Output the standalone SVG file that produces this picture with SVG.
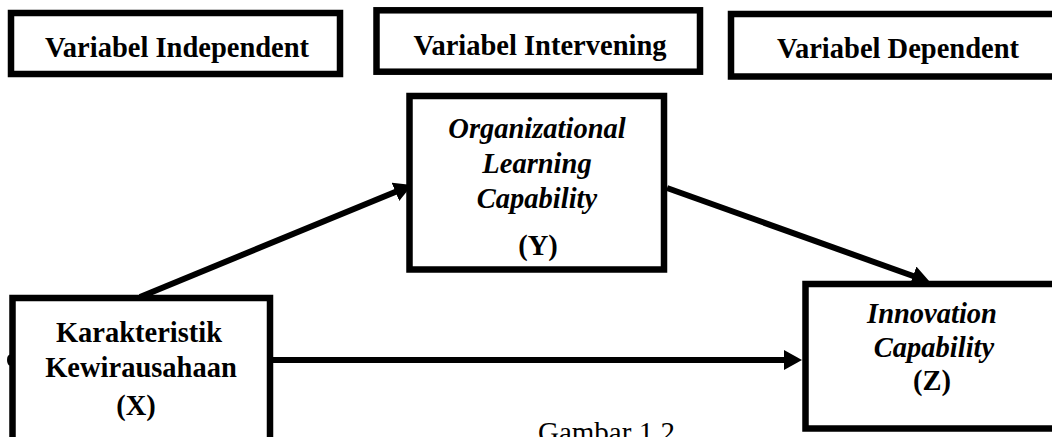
<svg xmlns="http://www.w3.org/2000/svg" width="1052" height="437" viewBox="0 0 1052 437">
<style>
.box{fill:#fff;stroke:#000;stroke-width:6.5}
.t{font-family:"Liberation Serif","Times New Roman",serif;font-size:28.5px;font-weight:bold;fill:#000;text-anchor:middle}
.i{font-style:italic}
.cap{font-family:"Liberation Serif","Times New Roman",serif;font-size:29px;fill:#000}
.conn{stroke:#000;stroke-width:6;fill:none}
</style>
<defs>
<marker id="ah" markerUnits="userSpaceOnUse" markerWidth="20" markerHeight="22" refX="9" refY="10" orient="auto">
<path d="M0,0 L18,10 L0,20 z" fill="#000"/>
</marker>
</defs>
<rect width="1052" height="437" fill="#fff"/>
<g id="hdr-independent">
<rect class="box" x="11" y="13" width="329" height="61"/>
<text class="t" x="177" y="57">Variabel Independent</text>
</g>
<g id="hdr-intervening">
<rect class="box" x="376.5" y="10.3" width="323.5" height="61.4"/>
<text class="t" x="540" y="55">Variabel Intervening</text>
</g>
<g id="hdr-dependent">
<rect class="box" x="731" y="14" width="340" height="62.5"/>
<text class="t" x="898" y="58">Variabel Dependent</text>
</g>
<g id="connectors">
<line class="conn" x1="140" y1="297" x2="403.7" y2="188.4" marker-end="url(#ah)"/>
<line class="conn" x1="667" y1="188" x2="921.5" y2="279" marker-end="url(#ah)"/>
<line class="conn" x1="273" y1="360" x2="793" y2="360" marker-end="url(#ah)"/>
</g>
<g id="node-y">
<rect class="box" x="409.5" y="96" width="254.5" height="173.5"/>
<text class="t i" x="537" y="138">Organizational</text>
<text class="t i" x="537" y="173">Learning</text>
<text class="t i" x="537" y="208">Capability</text>
<text class="t" x="538" y="255">(Y)</text>
</g>
<g id="node-x">
<ellipse cx="10" cy="360" rx="3" ry="5.5" fill="#000"/>
<rect class="box" x="12.5" y="298" width="257.5" height="170"/>
<text class="t" x="139" y="342">Karakteristik</text>
<text class="t" x="141" y="377">Kewirausahaan</text>
<text class="t" x="136" y="415">(X)</text>
</g>
<g id="node-z">
<rect class="box" x="805.5" y="284" width="270" height="144.5"/>
<text class="t i" x="932" y="323">Innovation</text>
<text class="t i" x="934" y="357">Capability</text>
<text class="t" x="932" y="390">(Z)</text>
</g>
<text class="cap" x="538" y="442">Gambar 1.2</text>
</svg>
